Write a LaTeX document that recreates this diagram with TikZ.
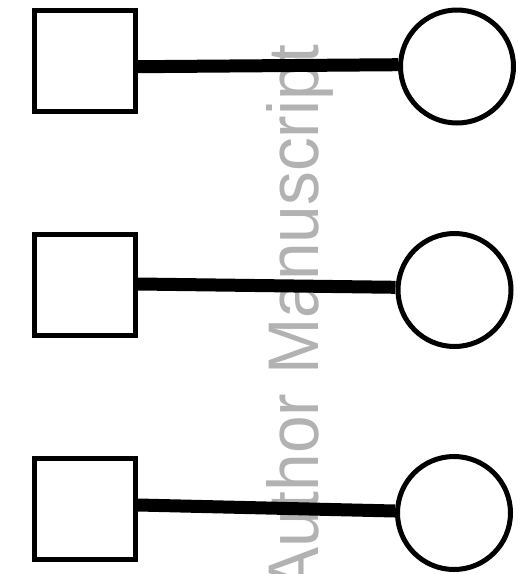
\documentclass[tikz,border=0pt]{standalone}
\usepackage{fontspec}
\usepackage{graphicx}
\setmainfont{Liberation Sans}
\begin{document}
\begin{tikzpicture}[x=1pt,y=-1pt,
  sqbox/.style={draw=black,line width=5pt,minimum size=101pt,inner sep=0pt,shape=rectangle},
  rnd/.style={draw=black,line width=5pt,minimum size=113pt,inner sep=0pt,shape=circle},
  link/.style={line width=13pt,line cap=butt},
  wmark/.style={text=black!30,inner sep=0pt,rotate=90,anchor=base west,font=\fontsize{69}{69}\selectfont}]
\useasboundingbox (0,0) rectangle (518,574);
\node[wmark] (wm) at (318,593) {\scalebox{0.98}[1.04]{Author Manuscript}};
\node[sqbox] (s1) at (85,61) {};
\node[sqbox] (s2) at (85,285) {};
\node[sqbox] (s3) at (85,508.5) {};
\node[rnd] (c1) at (457,66.5) {};
\node[rnd] (c2) at (454.5,290) {};
\node[rnd] (c3) at (454,513) {};
\draw[link] ([yshift=-5.7pt]s1.east) -- ([yshift=1.8pt]c1.west);
\draw[link] ([yshift=1pt]s2.east) -- ([yshift=2.7pt]c2.west);
\draw[link] ([yshift=3.5pt]s3.east) -- ([yshift=2pt]c3.west);
\end{tikzpicture}
\end{document}
